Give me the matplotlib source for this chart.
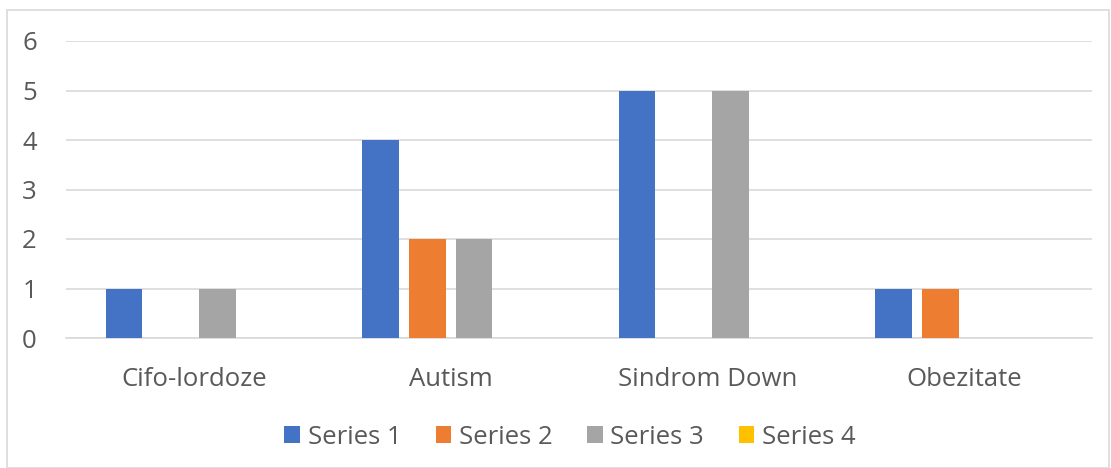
import matplotlib.pyplot as plt
import numpy as np
from matplotlib.patches import Rectangle

categories = ['Cifo-lordoze', 'Autism', 'Sindrom Down', 'Obezitate']
series_names = ['Series 1', 'Series 2', 'Series 3', 'Series 4']
series_1 = [1, 4, 5, 1]
series_2 = [0, 2, 0, 1]
series_3 = [1, 2, 5, 0]
series_4 = [0, 0, 0, 0]
colors = ['#4472C4', '#ED7D31', '#A5A5A5', '#FFC000']

plt.rcParams['font.family'] = ['Open Sans', 'DejaVu Sans']

fig = plt.figure(figsize=(11.11, 4.68), dpi=100)
# рамка вокруг всей диаграммы
fig.patches.append(Rectangle((7 / 1111, 0), 1 - 7 / 1111 - 0.002, 1 - 10 / 468,
                             transform=fig.transFigure, fill=False,
                             edgecolor='#D9D9D9', linewidth=1.2))

ax = fig.add_axes([66 / 1111, 1 - 338 / 468, (1092 - 66) / 1111, (338 - 41) / 468])

x = np.arange(len(categories))
step = 46.7 / 256.5
width = 36.5 / 256.5
all_series = [series_1, series_2, series_3, series_4]
for i, vals in enumerate(all_series):
    ax.bar(x + (i - 1.5) * step, vals, width, color=colors[i], label=series_names[i],
           zorder=3)

ax.set_xlim(-0.5, len(categories) - 0.5)
ax.set_ylim(0, 6)
ax.set_yticks(range(7))
ax.set_xticks(x)
ax.set_xticklabels(categories)
ax.grid(axis='y', color='#D9D9D9', linewidth=1.2, zorder=0)
for s in ['top', 'right', 'left']:
    ax.spines[s].set_visible(False)
ax.spines['bottom'].set_color('#D9D9D9')
ax.spines['bottom'].set_linewidth(1.2)
ax.tick_params(axis='both', length=0, labelsize=18.5, labelcolor='#595959')
ax.tick_params(axis='y', pad=21)
ax.tick_params(axis='x', pad=21)

fig.legend(loc='center', bbox_to_anchor=(570 / 1111, 1 - 437 / 468), ncol=4, frameon=False,
           fontsize=18.5, labelcolor='#595959', handlelength=0.6, handleheight=0.6,
           handletextpad=0.3, columnspacing=1.35)

plt.savefig('out.png', dpi=100)
